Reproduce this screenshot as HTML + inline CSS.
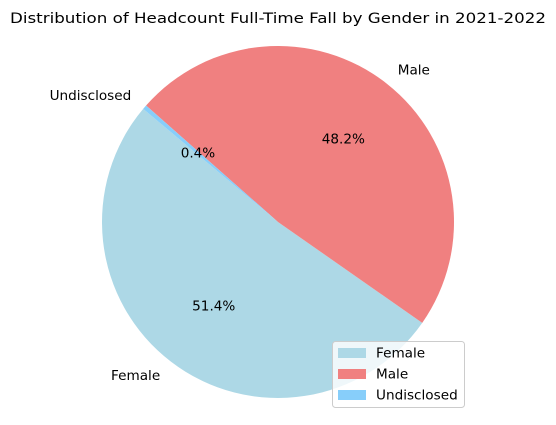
<!DOCTYPE html>
<html><head><meta charset="utf-8"><style>
html,body{margin:0;padding:0;background:#fff;}
svg{display:block;font-family:"DejaVu Sans","Liberation Sans",sans-serif;}
</style></head><body>
<svg id="chart" width="556" height="425" viewBox="0 0 556 425">
<text x="278" y="23" text-anchor="middle" font-size="14.5" textLength="536" lengthAdjust="spacingAndGlyphs">Distribution of Headcount Full-Time Fall by Gender in 2021-2022</text>
<g id="slices"></g>
<g id="labels"></g>
<g>
<rect x="332.5" y="341.5" width="132" height="66" rx="3" fill="#fff" fill-opacity="0.8" stroke="#ccc"/>
<g id="legend-entries"></g>
</g>
</svg>
<script>
const categories = ["Female", "Male", "Undisclosed"];
const values = [51.4, 48.2, 0.4];
const pctLabels = ["51.4%", "48.2%", "0.4%"];
const colors = ["#ADD8E6", "#F08080", "#87CEFA"];
const startAngle = 140;

const cx = 278, cy = 222, r = 176;
const FS = '13.6';
const NS = "http://www.w3.org/2000/svg";
const total = values.reduce((a,b)=>a+b,0);
function pt(angDeg, rad){const a=angDeg*Math.PI/180;return [cx+rad*Math.cos(a), cy-rad*Math.sin(a)];}
const gS=document.getElementById('slices'), gL=document.getElementById('labels'), gLeg=document.getElementById('legend-entries');
let ang=startAngle;
values.forEach((v,i)=>{
  const span=v/total*360;
  const a0=ang, a1=ang+span;
  const p0=pt(a0,r), p1=pt(a1,r);
  const large=span>180?1:0;
  const path=document.createElementNS(NS,'path');
  path.setAttribute('d',`M${cx},${cy} L${p0[0]},${p0[1]} A${r},${r} 0 ${large} 0 ${p1[0]},${p1[1]} Z`);
  path.setAttribute('fill',colors[i]);
  
  
  gS.appendChild(path);
  const mid=(a0+a1)/2;
  const lp=pt(mid,r*1.1);
  const t=document.createElementNS(NS,'text');
  t.setAttribute('x',lp[0]);t.setAttribute('y',lp[1]+4.5);
  t.setAttribute('font-size',FS);
  t.setAttribute('text-anchor',Math.cos(mid*Math.PI/180)>=0?'start':'end');
  t.textContent=categories[i];
  
  
  gL.appendChild(t);
  const pp=pt(mid,r*0.6);
  const t2=document.createElementNS(NS,'text');
  t2.setAttribute('x',pp[0]);t2.setAttribute('y',pp[1]+4.5);
  t2.setAttribute('font-size',FS);t2.setAttribute('text-anchor','middle');
  t2.textContent=pctLabels[i];
  
  
  gL.appendChild(t2);
  const ly=348+i*21;
  const rc=document.createElementNS(NS,'rect');
  rc.setAttribute('x',338);rc.setAttribute('y',ly);rc.setAttribute('width',28);rc.setAttribute('height',10);
  rc.setAttribute('fill',colors[i]);
  
  
  gLeg.appendChild(rc);
  const lt=document.createElementNS(NS,'text');
  lt.setAttribute('x',376);lt.setAttribute('y',ly+9.5);lt.setAttribute('font-size',FS);
  lt.textContent=categories[i];
  
  
  gLeg.appendChild(lt);
  ang=a1;
});
</script>
</body></html>
